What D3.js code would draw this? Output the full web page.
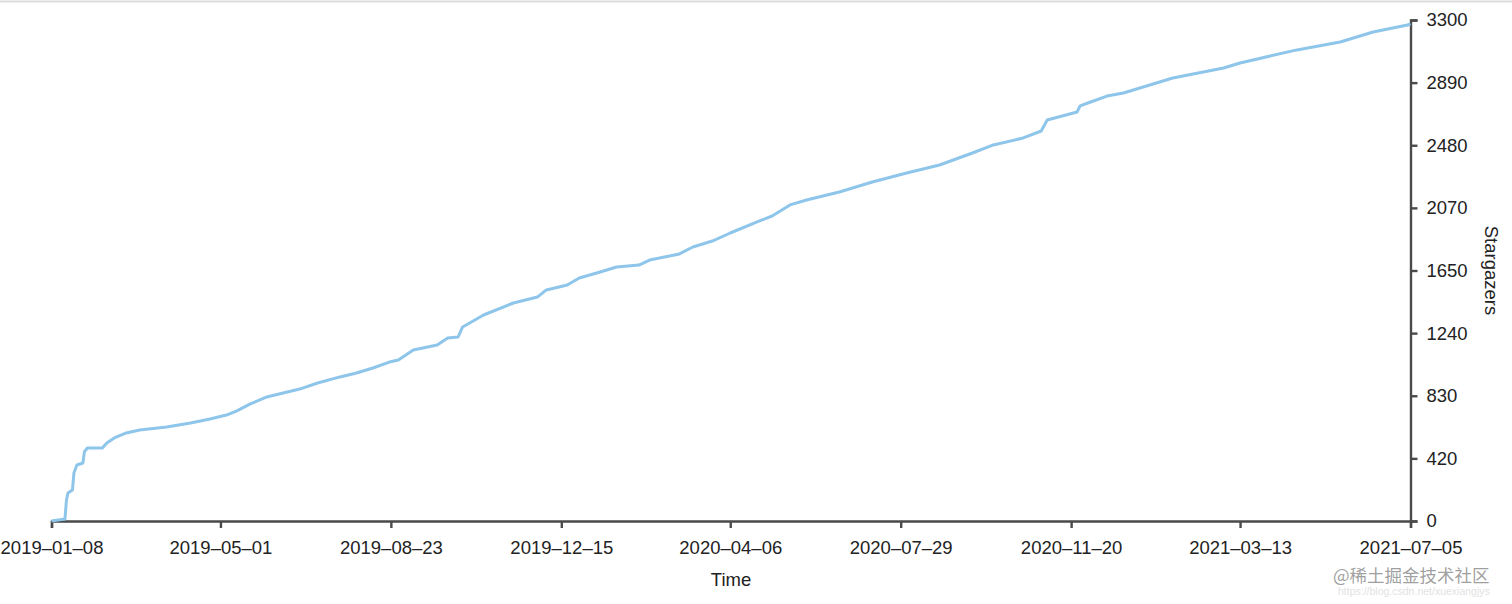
<!DOCTYPE html>
<html>
<head>
<meta charset="utf-8">
<script src="https://d3js.org/d3.v7.min.js"></script>
<style>
  body { margin: 0; background: #fff; }
  svg { display: block; font-family: "Helvetica Neue", Helvetica, Arial, "Liberation Sans", sans-serif; }
  .axis path, .axis line { stroke: #4a4a4a; stroke-width: 2.4; }
  .axis text { fill: #222; font-size: 18.5px; }
</style>
</head>
<body>
<script>
// star history
var dates = ["2019-01-08","2019-01-17","2019-01-18","2019-01-19","2019-01-22","2019-01-23","2019-01-25","2019-01-29",
  "2019-01-30","2019-02-01","2019-02-11","2019-02-14","2019-02-19","2019-02-27","2019-03-08","2019-03-26",
  "2019-04-11","2019-04-24","2019-05-05","2019-05-12","2019-05-21","2019-06-01","2019-06-23","2019-07-05",
  "2019-07-20","2019-07-31","2019-08-11","2019-08-22","2019-08-28","2019-09-07","2019-09-23","2019-09-30",
  "2019-10-07","2019-10-10","2019-10-24","2019-11-13","2019-11-29","2019-12-05","2019-12-19","2019-12-27",
  "2020-01-10","2020-01-21","2020-02-05","2020-02-12","2020-03-03","2020-03-12","2020-03-25","2020-04-06",
  "2020-04-24","2020-05-04","2020-05-16","2020-05-27","2020-06-18","2020-07-10","2020-08-02","2020-08-24",
  "2020-09-15","2020-09-29","2020-10-19","2020-10-31","2020-11-04","2020-11-24","2020-11-26","2020-12-03",
  "2020-12-14","2020-12-25","2021-01-27","2021-03-02","2021-03-13","2021-04-20","2021-05-19","2021-06-10",
  "2021-07-03","2021-07-05"];
var stars = [0, 13, 138, 184, 204, 316, 369, 382,
  455, 481, 481, 514, 547, 580, 599, 619,
  646, 672, 698, 725, 771, 817, 869, 909,
  949, 975, 1008, 1047, 1060, 1126, 1159, 1205,
  1212, 1278, 1357, 1436, 1475, 1522, 1555, 1601,
  1640, 1673, 1686, 1719, 1759, 1805, 1844, 1897,
  1970, 2009, 2082, 2114, 2167, 2233, 2292, 2345,
  2424, 2477, 2523, 2569, 2641, 2694, 2734, 2760,
  2799, 2819, 2918, 2984, 3017, 3103, 3155, 3221,
  3267, 3275];

var xTicks = ["2019-01-08","2019-05-01","2019-08-23","2019-12-15","2020-04-06","2020-07-29","2020-11-20","2021-03-13","2021-07-05"];
var yTickLabels = ["0","420","830","1240","1650","2070","2480","2890","3300"];
var yMax = 3300;

(function() {
  var W = 1512, H = 604;
  var m = {left: 51.5, right: 1410.5, top: 20, bottom: 521};

  var parse = d3.utcParse("%Y-%m-%d");
  var fmt = d3.utcFormat("%Y\u2013%m\u2013%d");

  var data = dates.map(function(d, i) { return {date: parse(d), value: stars[i]}; });

  var svg = d3.select("body").append("svg").attr("width", W).attr("height", H);

  // thin page border seen at the top of the screenshot
  svg.append("line").attr("x1", 0).attr("x2", W).attr("y1", 1.5).attr("y2", 1.5)
    .attr("stroke", "#dcdcdc").attr("stroke-width", 2);

  var x = d3.scaleUtc()
    .domain([parse(xTicks[0]), parse(xTicks[xTicks.length - 1])])
    .range([m.left, m.right]);
  var y = d3.scaleLinear().domain([0, yMax]).range([m.bottom, m.top]);

  var yTickVals = yTickLabels.map(function(d, i) { return yMax * i / (yTickLabels.length - 1); });

  svg.append("g").attr("class", "axis x")
    .attr("transform", "translate(0," + m.bottom + ")")
    .call(d3.axisBottom(x).tickValues(xTicks.map(parse)).tickFormat(fmt)
      .tickSize(7).tickSizeOuter(7).tickPadding(13));

  svg.append("g").attr("class", "axis y")
    .attr("transform", "translate(" + m.right + ",0)")
    .call(d3.axisRight(y).tickValues(yTickVals)
      .tickFormat(function(d, i) { return yTickLabels[i]; })
      .tickSize(7).tickSizeOuter(7).tickPadding(9));

  svg.selectAll(".axis .domain").attr("fill", "none");

  var line = d3.line()
    .x(function(d) { return x(d.date); })
    .y(function(d) { return y(d.value); })
    .curve(d3.curveLinear);

  svg.append("path").datum(data)
    .attr("fill", "none")
    .attr("stroke", "#8ec5ea")
    .attr("stroke-width", 3)
    .attr("stroke-linejoin", "round")
    .attr("d", line);

  svg.append("text").attr("x", (m.left + m.right) / 2).attr("y", 586)
    .attr("text-anchor", "middle").attr("font-size", 18.5).attr("fill", "#222")
    .text("Time");

  svg.append("text").attr("transform", "translate(1485," + (m.top + m.bottom) / 2 + ") rotate(90)")
    .attr("text-anchor", "middle").attr("font-size", 18.5).attr("fill", "#222")
    .text("Stargazers");

  // watermark
  svg.append("text").attr("x", 1333).attr("y", 582)
    .attr("font-family", "'Noto Sans CJK SC', sans-serif")
    .attr("font-size", 17.5).attr("fill", "#8e8e8e").attr("fill-opacity", 0.85)
    .text("@稀土掘金技术社区");
  svg.append("text").attr("x", 1338).attr("y", 595)
    .attr("font-size", 10.5).attr("fill", "#e2e2e2")
    .text("https://blog.csdn.net/xuexiangjys");
})();
</script>
</body>
</html>
